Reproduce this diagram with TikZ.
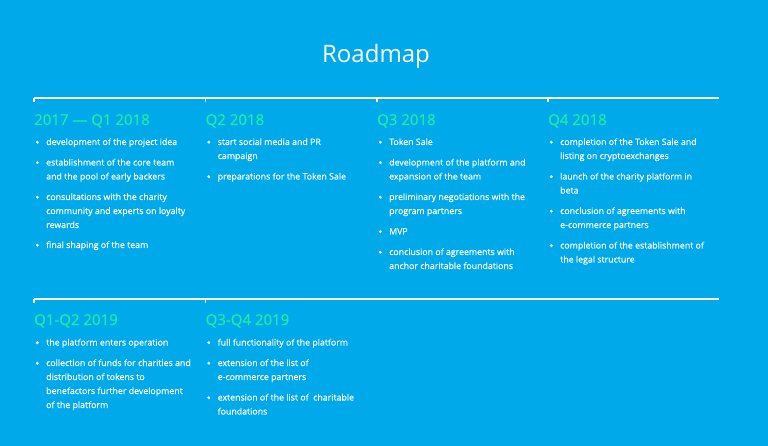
\documentclass[tikz,border=0pt]{standalone}
\usepackage{fontspec}
\setmainfont{Open Sans}
\newfontfamily\bodyfont{Open Sans}[FakeBold=0.35]
\newfontfamily\headfont{Open Sans}[FakeBold=0.6]
\usetikzlibrary{calc}
\definecolor{bgblue}{RGB}{0,169,234}
\definecolor{headgreen}{RGB}{30,234,170}
\begin{document}
\begin{tikzpicture}[x=1pt,y=-1pt,
  itemtext/.style={anchor=base west,inner sep=0pt,text=white,
    font=\bodyfont\fontsize{8.8}{14}\selectfont},
  headtext/.style={anchor=base west,inner sep=0pt,text=headgreen,
    font=\headfont\fontsize{15}{18}\selectfont},
  titletext/.style={anchor=base,inner sep=0pt,text=white,
    font=\fontsize{24}{28}\selectfont},
  rule/.style={draw=white,line width=2pt},
  tick/.style={draw=white,line width=1.2pt},
  dot/.style={fill=white}]
\fill[bgblue] (0,0) rectangle (768,446);
\useasboundingbox (0,0) rectangle (768,446);
\node[titletext] (title) at (376,63) {Roadmap};
% timeline rows
\coordinate (r1a) at (34,98); \coordinate (r1b) at (719,98);
\draw[rule] (r1a) -- (r1b);
\coordinate (r2a) at (34,299); \coordinate (r2b) at (719,299);
\draw[rule] (r2a) -- (r2b);
\foreach \x in {34,205.5,377,548}{\draw[tick] (\x,98) -- (\x,102);}
\foreach \x in {34,205.5}{\draw[tick] (\x,299) -- (\x,303);}
% macro for bullet items
\newcommand{\rmitem}[4]{%
  \node[itemtext] (#1) at (#2,#3) {\begin{tabular}[t]{@{}l@{}}#4\end{tabular}};
  \fill[dot] ($(#1.base west)+(-8.7,-2.8)$) circle (1.6);}
% column 1
\node[headtext] (h1) at (34,125) {2017 — Q1 2018};
\rmitem{a1}{46}{145}{development of the project idea}
\rmitem{a2}{46}{165.5}{establishment of the core team\\and the pool of early backers}
\rmitem{a3}{46}{200}{consultations with the charity\\community and experts on loyalty\\rewards}
\rmitem{a4}{46}{248}{final shaping of the team}
% column 2
\node[headtext] (h2) at (205.5,125) {Q2 2018};
\rmitem{b1}{217.5}{145}{start social media and PR\\campaign}
\rmitem{b2}{217.5}{179.5}{preparations for the Token Sale}
% column 3
\node[headtext] (h3) at (377,125) {Q3 2018};
\rmitem{c1}{389}{145}{Token Sale}
\rmitem{c2}{389}{165.5}{development of the platform and\\expansion of the team}
\rmitem{c3}{389}{200}{preliminary negotiations with the\\program partners}
\rmitem{c4}{389}{234.5}{MVP}
\rmitem{c5}{389}{255}{conclusion of agreements with\\anchor charitable foundations}
% column 4
\node[headtext] (h4) at (548,125) {Q4 2018};
\rmitem{d1}{560}{145}{completion of the Token Sale and\\listing on cryptoexchanges}
\rmitem{d2}{560}{179.5}{launch of the charity platform in\\beta}
\rmitem{d3}{560}{214}{conclusion of agreements with\\e-commerce partners}
\rmitem{d4}{560}{248.5}{completion of the establishment of\\the legal structure}
% row 2 column 1
\node[headtext] (h5) at (34,325) {Q1-Q2 2019};
\rmitem{e1}{46}{345.5}{the platform enters operation}
\rmitem{e2}{46}{366}{collection of funds for charities and\\distribution of tokens to\\benefactors further development\\of the platform}
% row 2 column 2
\node[headtext] (h6) at (205.5,325) {Q3-Q4 2019};
\rmitem{f1}{217.5}{345.5}{full functionality of the platform}
\rmitem{f2}{217.5}{366}{extension of the list of\\e-commerce partners}
\rmitem{f3}{217.5}{400.5}{extension of the list of\ \ charitable\\foundations}
\end{tikzpicture}
\end{document}
